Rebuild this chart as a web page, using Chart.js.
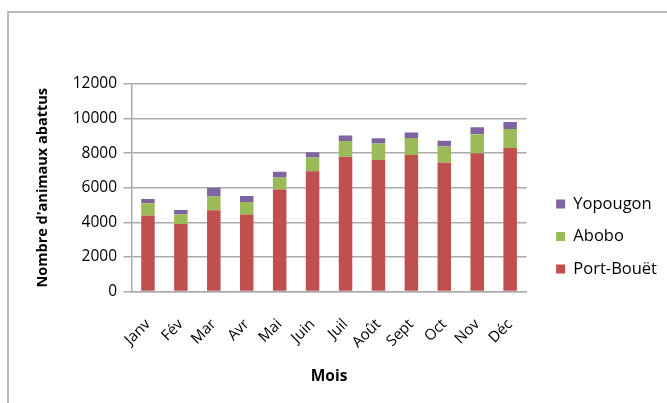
<!DOCTYPE html>
<html>
<head>
<meta charset="utf-8">
<script src="https://cdn.jsdelivr.net/npm/chart.js@4/dist/chart.umd.min.js"></script>
<style>
  html, body { margin: 0; padding: 0; background: #fff; }
  #wrap { position: relative; width: 667px; height: 403px; overflow: hidden; }
  #frame { position: absolute; left: 7px; top: 11px; width: 700px; height: 420px;
           border: 2px solid #b9b9b9; box-sizing: border-box; }
  #c { position: absolute; left: 0; top: 0; }
</style>
</head>
<body>
<div id="wrap">
  <div id="frame"></div>
  <canvas id="c" width="667" height="403"></canvas>
</div>
<script>
// Monthly number of slaughtered animals per abattoir
const months = ['Janv', 'Fév', 'Mar', 'Avr', 'Mai', 'Juin', 'Juil', 'Août', 'Sept', 'Oct', 'Nov', 'Déc'];
const portBouet = [4400, 3900, 4700, 4450, 5900, 6950, 7800, 7600, 7900, 7450, 8000, 8300];
const abobo     = [700, 550, 800, 730, 700, 800, 900, 960, 970, 940, 1100, 1100];
const yopougon  = [250, 270, 500, 350, 320, 310, 320, 300, 330, 330, 400, 400];
const yTicks = [0, 2000, 4000, 6000, 8000, 10000, 12000];

Chart.defaults.font.family = '"Open Sans", "Liberation Sans", sans-serif';
Chart.defaults.color = '#000';

const gridColor = '#ababab';

new Chart(document.getElementById('c'), {
  type: 'bar',
  data: {
    labels: months,
    datasets: [
      { label: 'Port-Bouët', data: portBouet, backgroundColor: '#C0504D' },
      { label: 'Abobo', data: abobo, backgroundColor: '#9BBB59' },
      { label: 'Yopougon', data: yopougon, backgroundColor: '#8064A2' }
    ]
  },
  options: {
    responsive: false,
    animation: false,
    events: [],
    layout: { padding: { left: 20, top: 84, right: 0, bottom: 14 } },
    datasets: { bar: { barPercentage: 0.41, categoryPercentage: 1 } },
    plugins: {
      tooltip: { enabled: false },
      legend: {
        position: 'right',
        reverse: true,
        maxWidth: 200,
        labels: {
          boxWidth: 9,
          boxHeight: 9,
          padding: 16,
          font: { size: 16.5 }
        }
      }
    },
    scales: {
      x: {
        stacked: true,
        grid: { display: false, drawTicks: false },
        border: { display: true, color: gridColor, width: 1.5 },
        ticks: { minRotation: 45, maxRotation: 45, autoSkip: false, padding: 24, font: { size: 15 } },
        title: { display: true, text: 'Mois', font: { size: 15.5, weight: 'bold' }, padding: { top: 0, bottom: 2.7 } },
        afterFit: (s) => { s.height = 97.5; }
      },
      y: {
        stacked: true,
        min: 0,
        max: 12000,
        afterBuildTicks: (s) => { s.ticks = yTicks.map(v => ({ value: v })); },
        grid: { color: gridColor, lineWidth: 1.5, tickLength: 8, tickColor: gridColor },
        border: { display: true, color: gridColor, width: 1.5 },
        ticks: { padding: 6.5, font: { size: 15.5 }, callback: (v) => String(v) },
        title: { display: true, text: "Nombre d'animaux abattus", font: { size: 14.5, weight: 'bold' }, padding: { top: 14.3, bottom: 0 } },
        afterFit: (s) => { s.width = 111.5; }
      },
      // narrow spacer between the plot and the legend
      gap: {
        type: 'linear',
        position: 'right',
        display: true,
        grid: { display: false, drawTicks: false },
        border: { display: false },
        ticks: { display: false },
        afterFit: (s) => { s.width = 13.5; }
      }
    }
  }
});
</script>
</body>
</html>
